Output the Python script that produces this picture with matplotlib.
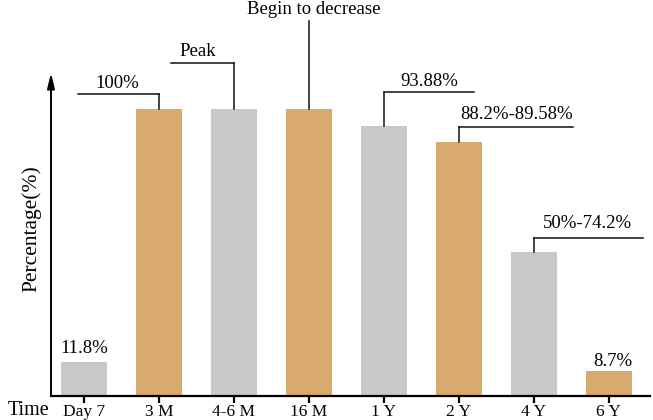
import matplotlib
matplotlib.use("Agg")
import matplotlib.pyplot as plt

plt.rcParams['font.family'] = ['Liberation Serif', 'DejaVu Serif']

categories = ['Day 7', '3 M', '4-6 M', '16 M', '1 Y', '2 Y', '4 Y', '6 Y']
values = [11.8, 100, 100, 100, 93.88, 88.2, 50, 8.7]
bar_colors = ['#C8C8C8', '#D9AA6D'] * 4

# callouts: (bar index, label, line elbow height, horizontal end x, text x, text y)
callouts = [
    (1, '100%', 104.9, -0.08, 0.45, 107.0),
    (2, 'Peak', 116.0, 1.16, 1.52, 118.1),
    (3, 'Begin to decrease', 130.6, None, 3.06, 132.9),
    (4, '93.88%', 105.6, 5.2, 4.61, 107.7),
    (5, '88.2%-89.58%', 93.4, 6.52, 5.77, 96.2),
    (6, '50%-74.2%', 55.1, 7.45, 6.71, 58.6),
]
plain_labels = [(0, '11.8%', 0.0, 15.1), (7, '8.7%', 7.05, 10.6)]

W, H = 653, 420
fig = plt.figure(figsize=(W / 100, H / 100), dpi=100)
ax = fig.add_axes([51 / W, 1 - 396 / H, (650 - 51) / W, (396 - 73) / H])

x = list(range(len(categories)))
ax.bar(x, values, width=0.613, color=bar_colors, zorder=2)

ax.set_xlim(-0.44, 7.547)
ax.set_ylim(0, (396 - 73) / 2.875)

for s in ['top', 'right', 'left']:
    ax.spines[s].set_visible(False)
ax.spines['bottom'].set_linewidth(1.6)
ax.set_yticks([])
ax.set_xticks(x)
ax.set_xticklabels(categories, fontsize=12.5)
ax.tick_params(axis='x', direction='out', length=5, width=1.6, pad=1)

# y-axis with arrow
ax.annotate('', xy=(0, 1.0), xytext=(0, 0), xycoords='axes fraction',
            arrowprops=dict(arrowstyle='-|>,head_length=0.9,head_width=0.22',
                            lw=1.4, color='black', shrinkA=0, shrinkB=0))

line_kw = dict(color='#111111', lw=1.1, clip_on=False, zorder=3)
for idx, label, ey, hx, tx, ty in callouts:
    top = values[idx]
    ax.plot([idx, idx], [top, ey], **line_kw)
    if hx is not None:
        ax.plot([idx, hx], [ey, ey], **line_kw)
    ax.text(tx, ty, label, ha='center', va='baseline', fontsize=13.5, clip_on=False)

for idx, label, tx, ty in plain_labels:
    ax.text(tx, ty, label, ha='center', va='baseline', fontsize=13.5)

fig.text(32 / W, 1 - 229 / H, 'Percentage(%)', rotation=90, ha='center', va='center', fontsize=15.5)
fig.text(29 / W, 1 - 415 / H, 'Time', ha='center', va='baseline', fontsize=14.5)

fig.savefig('out.png', dpi=100)
